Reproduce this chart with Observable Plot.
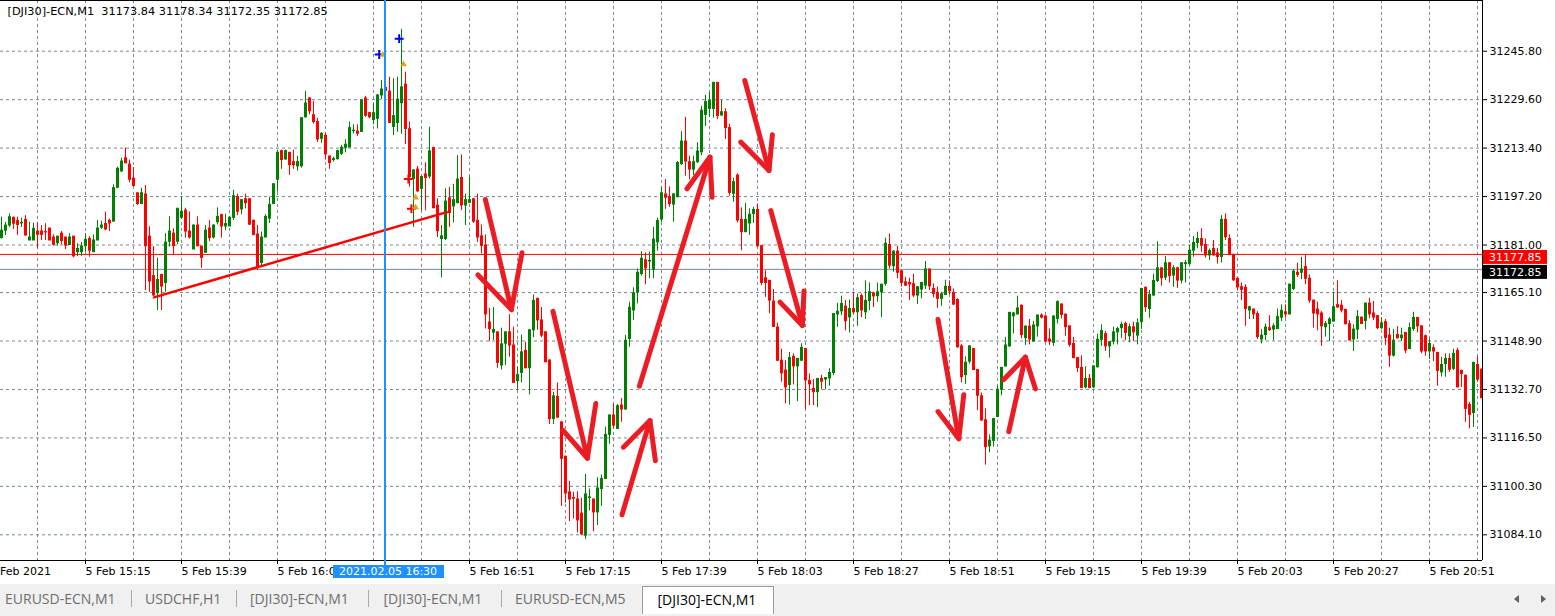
<!DOCTYPE html>
<html><head><meta charset="utf-8">
<script src="https://cdn.jsdelivr.net/npm/d3@7"></script>
<script src="https://cdn.jsdelivr.net/npm/@observablehq/plot@0.6"></script>
<style>
html,body{margin:0;padding:0;background:#fff;width:1555px;height:616px;overflow:hidden;font-family:"DejaVu Sans",sans-serif;}
#chart svg{display:block}
#tabs{position:absolute;left:0;top:584px;width:1555px;height:32px;background:#f0f0f0;font-family:"Open Sans",sans-serif;font-size:14px;}
.tab{position:absolute;top:1px;height:28px;line-height:28px;color:#6e6e6e;white-space:nowrap}
.sep{position:absolute;top:6px;width:1px;height:17px;background:#a9a9a9}
.active{position:absolute;top:2px;height:28px;background:#fff;border:1px solid #9a9a9a;border-bottom:none;box-sizing:border-box}
</style></head><body>
<div id="chart"></div>
<div id="tabs"></div>
<script>
// ---------- data ----------
const symbolTitle = "[DJI30]-ECN,M1\u00a0\u00a031173.84 31178.34 31172.35 31172.85";
const firstMinute = "14:54"; // time of the first M1 candle
const open = [
31183.3,31185.8,31187.5,31190.1,31189.0,31188.2,31189.4,31182.5,31182.5,31185.5,
31185.5,31185.3,31186.5,31183.5,31181.6,31184.8,31183.5,31181.0,31183.8,31178.6,
31178.6,31180.6,31183.0,31178.6,31182.5,31186.8,31188.0,31189.1,31188.8,31200.1,
31205.6,31210.0,31207.9,31203.2,31198.3,31194.7,31197.9,31183.8,31170.6,31164.9,
31171.0,31168.3,31182.1,31184.8,31182.1,31190.1,31192.5,31185.5,31179.5,31187.5,
31180.5,31178.4,31186.5,31183.5,31188.6,31191.0,31187.2,31187.2,31190.1,31197.0,
31192.9,31196.3,31196.3,31189.1,31184.5,31175.0,31183.5,31189.8,31194.7,31202.8,
31212.4,31209.6,31211.8,31208.7,31207.3,31207.3,31223.7,31230.0,31224.4,31222.1,
31216.5,31217.5,31210.6,31209.4,31209.7,31211.5,31213.5,31213.6,31219.1,31218.9,
31218.8,31230.0,31225.1,31222.8,31223.2,31231.0,31233.5,31232.3,31220.5,31221.8,
31228.4,31234.6,31219.7,31203.1,31206.2,31199.8,31204.6,31203.9,31213.4,31194.1,
31183.0,31183.0,31196.6,31193.9,31195.0,31203.4,31194.2,31195.1,31196.3,31189.1,
31183.9,31180.8,31155.1,31151.7,31151.8,31140.7,31148.0,31151.8,31147.4,31135.5,
31138.2,31145.6,31139.8,31152.5,31163.0,31155.8,31151.8,31142.4,31122.8,31130.2,
31121.7,31110.2,31098.3,31096.4,31095.9,31091.2,31083.8,31096.4,31095.9,31091.6,
31099.4,31102.8,31117.5,31124.0,31119.5,31127.3,31126.0,31149.6,31159.1,31165.2,
31171.3,31175.9,31175.5,31172.7,31181.9,31189.5,31197.9,31197.0,31194.5,31197.0,
31208.1,31215.6,31208.7,31206.2,31208.7,31212.0,31224.5,31226.5,31226.5,31235.2,
31224.3,31225.4,31220.1,31198.1,31204.2,31189.4,31185.3,31188.2,31191.4,31192.7,
31180.6,31169.9,31169.0,31162.1,31153.4,31142.3,31139.0,31134.2,31143.6,31140.4,
31142.3,31146.2,31135.5,31132.9,31131.8,31136.2,31136.0,31136.4,31138.2,31157.8,
31158.8,31160.4,31156.8,31159.6,31158.5,31163.9,31158.5,31162.3,31164.8,31163.9,
31165.2,31168.0,31181.0,31173.9,31178.8,31172.2,31168.5,31168.3,31167.9,31164.1,
31166.1,31167.4,31172.8,31166.3,31165.0,31163.0,31164.3,31167.0,31165.0,31162.6,
31147.1,31137.5,31142.0,31146.2,31139.2,31130.4,31122.4,31113.7,31115.5,31123.5,
31132.6,31140.4,31147.1,31157.2,31157.8,31160.7,31149.9,31153.7,31148.7,31153.8,
31157.4,31157.1,31149.4,31148.3,31156.3,31161.1,31157.7,31153.8,31147.9,31143.2,
31139.9,31133.4,31136.2,31133.4,31140.1,31149.3,31151.2,31147.1,31148.7,31151.8,
31153.2,31154.6,31150.5,31153.5,31150.7,31155.2,31166.7,31159.6,31164.1,31169.0,
31173.2,31170.1,31174.9,31170.8,31173.2,31169.1,31174.6,31174.6,31179.1,31181.7,
31183.0,31181.0,31177.5,31179.7,31178.2,31177.0,31189.4,31183.0,31177.7,31169.7,
31166.9,31166.7,31159.1,31159.4,31157.9,31149.4,31150.9,31153.2,31152.7,31152.9,
31156.7,31158.5,31157.8,31166.3,31171.7,31171.7,31173.6,31169.7,31162.4,31159.4,
31158.1,31153.5,31154.6,31155.4,31160.9,31160.7,31159.3,31154.5,31149.4,31152.7,
31156.7,31155.6,31161.4,31158.1,31157.2,31153.2,31155.2,31150.7,31144.0,31150.9,
31149.8,31151.6,31146.2,31152.9,31156.6,31153.8,31150.5,31145.4,31146.5,31144.9,
31138.4,31141.2,31142.9,31139.6,31145.6,31138.9,31137.3,31127.5,31124.8,31140.9,
31139.3];
const high = [
31190.3,31188.6,31191.4,31190.3,31190.3,31190.0,31190.8,31188.6,31188.3,31188.4,
31187.5,31188.1,31186.5,31184.4,31183.8,31185.5,31183.5,31184.8,31183.8,31181.4,
31181.8,31184.8,31183.8,31184.4,31189.2,31189.0,31192.0,31189.7,31201.1,31207.0,
31210.0,31213.4,31209.4,31206.9,31198.3,31200.0,31200.9,31187.1,31180.5,31176.6,
31171.0,31184.8,31190.4,31186.4,31193.3,31197.0,31193.3,31192.1,31187.7,31190.4,
31180.5,31187.5,31189.1,31187.7,31193.4,31191.3,31191.3,31190.4,31199.3,31198.0,
31196.2,31198.0,31196.5,31189.3,31187.5,31185.3,31191.1,31197.0,31201.5,31212.7,
31212.7,31212.7,31212.0,31212.7,31210.7,31223.6,31232.3,31230.3,31229.0,31223.4,
31218.5,31218.5,31210.6,31210.4,31212.7,31214.3,31216.2,31222.1,31221.2,31221.2,
31229.6,31230.7,31225.4,31228.2,31231.3,31236.0,31233.7,31237.1,31236.6,31237.1,
31253.1,31238.8,31222.1,31206.2,31207.3,31204.0,31208.5,31220.4,31213.7,31196.4,
31187.5,31199.8,31200.3,31201.3,31210.9,31211.1,31198.0,31203.6,31196.5,31198.0,
31187.7,31184.4,31159.8,31160.1,31152.0,31153.2,31152.0,31157.7,31153.5,31140.2,
31150.9,31148.5,31152.7,31164.3,31163.2,31160.1,31152.0,31142.6,31131.8,31134.9,
31121.9,31110.4,31102.0,31098.3,31098.5,31096.3,31104.3,31099.4,31096.1,31103.2,
31104.1,31120.1,31124.2,31127.7,31127.7,31129.7,31150.7,31161.9,31166.7,31173.0,
31178.8,31178.4,31178.6,31186.9,31190.0,31200.4,31202.9,31200.4,31198.2,31208.9,
31218.9,31223.7,31210.7,31210.7,31215.2,31227.4,31231.0,31231.9,31235.4,31235.4,
31229.3,31226.5,31221.4,31203.3,31204.8,31193.4,31194.9,31193.1,31193.6,31194.7,
31180.8,31172.4,31169.2,31166.1,31154.9,31146.2,31142.3,31145.1,31144.6,31143.1,
31148.0,31146.4,31137.9,31136.0,31136.4,31137.5,31136.7,31139.6,31158.1,31161.5,
31163.9,31162.4,31162.6,31165.2,31164.6,31164.6,31169.0,31168.3,31165.2,31168.3,
31167.9,31183.3,31184.7,31179.0,31180.6,31172.4,31170.2,31169.9,31171.2,31167.1,
31168.5,31175.5,31173.0,31168.0,31166.9,31165.2,31169.2,31169.0,31166.3,31163.0,
31147.8,31143.6,31147.3,31146.4,31139.4,31131.5,31126.2,31117.5,31123.0,31133.8,
31140.1,31150.1,31158.5,31158.5,31163.9,31160.9,31154.0,31156.1,31155.4,31157.6,
31158.0,31157.3,31152.9,31157.3,31162.4,31161.3,31157.9,31154.0,31150.1,31143.4,
31144.0,31140.3,31137.7,31140.6,31151.2,31154.3,31152.2,31148.7,31153.5,31153.5,
31155.2,31155.2,31154.6,31155.2,31156.3,31166.5,31166.9,31165.8,31171.2,31182.1,
31173.4,31177.2,31175.1,31174.1,31173.6,31175.1,31175.8,31180.8,31183.8,31185.3,
31186.4,31183.0,31179.7,31182.5,31179.9,31190.8,31191.4,31184.4,31177.9,31169.9,
31168.3,31167.7,31160.5,31159.6,31158.7,31152.7,31154.6,31157.4,31154.6,31159.6,
31161.0,31161.0,31168.0,31172.7,31174.9,31176.9,31177.7,31171.0,31162.6,31161.9,
31158.7,31155.4,31156.7,31165.2,31169.0,31162.4,31159.5,31155.8,31154.3,31159.1,
31156.9,31161.6,31163.2,31162.1,31157.4,31156.7,31156.1,31153.2,31152.7,31153.7,
31153.2,31151.8,31154.9,31158.5,31156.8,31154.0,31150.9,31149.6,31147.6,31145.1,
31143.5,31144.6,31144.6,31146.2,31146.5,31139.1,31137.5,31128.4,31141.8,31143.5,
31139.5];
const low = [
31183.0,31184.2,31186.9,31186.2,31184.2,31186.9,31183.9,31182.5,31182.5,31179.7,
31182.5,31182.5,31182.5,31180.6,31180.6,31181.1,31179.5,31181.0,31176.7,31177.2,
31177.2,31178.6,31176.9,31178.6,31182.5,31186.2,31185.8,31185.5,31188.8,31200.1,
31205.3,31208.3,31201.8,31200.4,31194.2,31194.7,31165.8,31165.2,31163.9,31159.1,
31159.1,31165.2,31180.3,31177.5,31181.1,31189.7,31183.3,31183.0,31179.5,31180.3,
31173.2,31178.4,31182.1,31183.0,31187.7,31183.3,31185.8,31187.2,31189.2,31190.8,
31191.1,31193.1,31187.5,31184.2,31172.5,31174.1,31183.5,31188.2,31194.5,31198.7,
31206.3,31209.4,31204.3,31206.3,31205.7,31206.7,31223.4,31224.5,31221.4,31215.3,
31215.0,31209.4,31206.3,31208.7,31209.4,31210.9,31211.8,31213.6,31218.2,31217.3,
31218.8,31223.7,31223.2,31221.2,31219.8,31229.6,31232.3,31221.6,31217.6,31218.7,
31218.0,31214.6,31200.3,31186.9,31198.7,31192.4,31192.4,31203.1,31193.1,31183.5,
31170.0,31182.5,31186.9,31188.4,31194.8,31192.5,31187.5,31194.9,31188.2,31181.9,
31178.0,31152.9,31148.7,31149.1,31139.8,31139.2,31140.7,31143.5,31134.7,31132.5,
31134.9,31139.6,31130.9,31150.0,31152.5,31150.0,31141.6,31121.0,31121.0,31123.0,
31093.6,31094.7,31088.5,31089.4,31084.7,31083.8,31082.5,31092.1,31085.1,31087.2,
31093.6,31102.6,31114.4,31119.5,31119.3,31121.7,31125.8,31146.8,31155.8,31161.3,
31170.6,31167.7,31169.7,31169.7,31179.0,31188.6,31192.9,31193.6,31188.6,31196.8,
31207.6,31204.0,31202.8,31204.2,31208.2,31210.9,31220.6,31223.7,31223.4,31222.9,
31224.1,31216.3,31197.3,31195.3,31188.4,31179.1,31185.1,31184.2,31188.2,31180.1,
31167.4,31163.5,31158.0,31153.4,31142.0,31135.1,31127.9,31127.5,31134.2,31128.6,
31142.1,31126.0,31127.3,31127.3,31126.6,31132.6,31132.6,31133.8,31137.3,31153.5,
31157.4,31152.3,31151.6,31157.8,31153.8,31156.7,31156.1,31159.1,31160.1,31161.9,
31156.7,31167.2,31173.0,31171.9,31169.7,31166.9,31167.2,31162.4,31163.4,31161.1,
31163.0,31166.1,31165.7,31163.3,31159.8,31160.5,31164.1,31164.3,31160.7,31146.5,
31134.9,31134.4,31141.2,31139.0,31125.6,31122.1,31107.4,31111.5,31113.4,31123.3,
31130.6,31140.2,31146.8,31151.3,31157.6,31149.6,31147.4,31147.6,31148.5,31150.2,
31156.3,31148.5,31147.4,31147.1,31154.6,31156.3,31150.5,31146.8,31142.9,31138.4,
31133.0,31132.9,31132.9,31132.9,31139.9,31147.1,31145.4,31143.2,31147.6,31147.6,
31149.8,31149.0,31148.3,31148.7,31147.6,31152.7,31158.5,31156.5,31163.9,31168.5,
31167.2,31169.1,31168.3,31166.9,31166.5,31168.0,31168.3,31174.1,31176.9,31179.7,
31178.6,31176.6,31175.8,31177.3,31174.6,31175.0,31182.5,31177.5,31168.8,31165.8,
31162.4,31153.8,31156.1,31156.1,31149.4,31147.9,31149.0,31152.1,31149.0,31152.7,
31155.4,31156.5,31157.6,31165.8,31170.1,31169.4,31167.7,31161.5,31153.2,31152.3,
31147.1,31150.2,31148.7,31155.2,31159.9,31158.3,31154.3,31148.9,31145.4,31149.4,
31154.4,31152.6,31156.3,31155.7,31152.7,31152.7,31147.4,31140.1,31143.5,31149.6,
31148.7,31144.6,31146.0,31152.1,31151.6,31144.6,31143.8,31142.7,31142.0,31133.8,
31136.9,31136.8,31138.4,31139.0,31133.2,31133.4,31121.7,31119.5,31120.0,31135.1,
31129.6];
const close = [
31185.8,31187.5,31190.3,31188.1,31187.7,31188.4,31184.2,31183.5,31186.4,31184.4,
31184.4,31185.2,31182.5,31181.1,31183.8,31182.3,31180.8,31183.5,31177.2,31179.7,
31180.5,31182.7,31179.1,31182.5,31186.5,31187.5,31186.2,31188.2,31200.0,31206.5,
31208.9,31208.3,31202.8,31200.7,31194.7,31198.3,31180.6,31168.8,31164.1,31169.3,
31167.1,31181.8,31185.5,31180.6,31193.1,31192.1,31185.5,31183.5,31187.5,31180.6,
31176.7,31185.8,31183.3,31187.5,31190.4,31187.2,31188.0,31190.1,31197.3,31192.1,
31196.0,31195.0,31187.8,31184.3,31173.6,31183.5,31190.4,31194.4,31201.3,31211.8,
31209.4,31212.4,31207.7,31207.7,31208.7,31223.4,31228.3,31225.7,31222.1,31216.3,
31218.2,31211.3,31208.4,31209.7,31212.4,31213.5,31214.5,31220.1,31219.2,31218.2,
31229.3,31224.2,31223.7,31225.1,31231.0,31233.0,31232.5,31221.8,31224.1,31229.6,
31233.7,31219.8,31203.7,31205.9,31198.9,31203.7,31203.4,31212.3,31193.3,31185.6,
31183.9,31195.5,31191.7,31196.0,31202.9,31194.2,31196.0,31196.0,31188.8,31183.5,
31180.7,31157.8,31152.9,31152.6,31141.6,31147.8,31151.8,31147.4,31134.9,31137.5,
31145.1,31139.8,31152.5,31162.3,31155.8,31150.7,31141.8,31122.8,31130.4,31123.3,
31109.5,31097.9,31095.9,31096.2,31088.9,31084.3,31097.6,31096.6,31091.6,31099.6,
31102.8,31117.5,31124.0,31120.6,31127.1,31126.0,31149.0,31160.0,31164.9,31171.7,
31176.4,31173.2,31175.7,31182.8,31189.0,31198.3,31196.8,31194.7,31197.9,31208.4,
31215.6,31208.9,31206.2,31208.7,31212.3,31225.9,31228.8,31229.2,31235.2,31224.1,
31225.4,31220.1,31198.4,31202.0,31189.2,31185.3,31189.4,31191.1,31192.7,31180.6,
31168.3,31168.3,31162.4,31153.6,31142.3,31138.1,31133.4,31143.2,31140.4,31142.9,
31146.6,31135.7,31134.4,31131.8,31136.2,31135.3,31136.5,31138.2,31157.9,31158.7,
31161.3,31155.5,31159.6,31158.5,31163.2,31159.1,31162.3,31165.2,31163.8,31165.2,
31167.7,31181.4,31174.1,31178.8,31171.7,31168.3,31167.4,31167.8,31164.1,31166.9,
31168.3,31172.8,31167.2,31164.6,31163.0,31164.5,31167.0,31165.5,31161.1,31146.8,
31136.8,31141.6,31147.1,31139.2,31130.6,31122.3,31113.4,31115.6,31122.8,31132.6,
31139.9,31147.4,31158.3,31158.1,31159.8,31150.9,31153.7,31149.4,31154.1,31157.4,
31156.7,31148.7,31148.7,31157.1,31161.9,31157.6,31153.5,31147.6,31143.2,31139.9,
31133.2,31136.2,31133.2,31140.4,31149.3,31152.2,31147.1,31148.5,31151.8,31152.9,
31154.3,31151.6,31153.5,31151.8,31154.8,31166.3,31160.2,31164.3,31169.0,31173.2,
31169.9,31174.9,31170.6,31173.2,31169.1,31174.9,31174.9,31179.1,31181.7,31183.0,
31180.8,31177.5,31179.0,31177.5,31177.0,31189.4,31183.6,31177.7,31169.2,31166.8,
31166.0,31159.6,31160.2,31157.8,31150.2,31150.7,31153.4,31152.5,31153.8,31156.9,
31159.0,31157.8,31167.7,31172.1,31171.0,31172.8,31169.7,31162.4,31158.1,31157.8,
31153.8,31154.6,31156.1,31160.2,31160.1,31159.1,31154.5,31149.1,31152.7,31156.9,
31154.6,31161.4,31157.8,31156.7,31153.2,31154.8,31149.9,31144.0,31149.0,31149.8,
31150.7,31145.7,31153.2,31156.6,31153.8,31145.4,31145.4,31147.9,31145.4,31138.9,
31140.9,31142.9,31139.3,31144.6,31133.4,31137.9,31126.2,31124.2,31141.6,31136.0,
31129.8];
const yTicks = [31084.10,31100.30,31116.50,31132.70,31148.90,31165.10,31181.00,31197.20,31213.40,31229.60,31245.80];
// 16:27 is hidden behind the cursor label in the reference, so it is not drawn
const xTickLabels = ["15:15","15:39","16:03","16:51","17:15","17:39","18:03","18:27","18:51","19:15","19:39","20:03","20:27","20:51"];
const dateLabel = "5 Feb 2021", dateLabelTime = "14:51";
const askPrice = 31177.85, bidPrice = 31172.85;
const cursorTime = "16:30", cursorLabel = "2021.02.05 16:30";
// trend line (minutes after first candle, price)
const trendLine = [[38, 31163.5], [111.2, 31192.0]];
// hand-drawn arrows: tail, tip, wing start, wing end (minutes after first candle, price)
const arrowTail  = [[120.85,31196.2],[137.75,31158.8],[155.0,31090.8],[159.35,31133.8],[185.7,31236.0],[192.2,31192.5],[234.0,31156.1],[251.7,31118.6]];
const arrowTip   = [[127.35,31159.4],[146.35,31109.7],[162.0,31122.3],[177.0,31210.4],[191.75,31205.9],[200.1,31154.1],[239.2,31116.2],[255.85,31143.5]];
const arrowWingA = [[119.0,31171.0],[140.25,31119.0],[155.35,31113.4],[171.25,31199.8],[184.7,31215.4],[194.5,31161.9],[234.0,31125.3],[250.45,31136.0]];
const arrowWingB = [[130.0,31178.4],[148.45,31128.0],[163.35,31108.9],[177.5,31197.0],[192.6,31217.9],[200.5,31165.6],[240.45,31130.9],[258.35,31132.9]];
// trade markers
const markerTimes  = [94.3, 99.3, 95.2, 100.4, 101.6, 102.35, 103.4, 103.4];
const markerPrices = [31244.7, 31250.0, 31244.6, 31241.4, 31203.1, 31193.1, 31196.9, 31193.6];
const markerKinds  = ["buy","buy","close","close","sell","sell","close","close"];
const tabNames = ["EURUSD-ECN,M1","USDCHF,H1","[DJI30]-ECN,M1","[DJI30]-ECN,M1","EURUSD-ECN,M5","[DJI30]-ECN,M1"];

// ---------- build ----------
const GREEN = "#008000", RED = "#ff0000", GRID = "#778899", BLUE = "#1e90ff", ARROW = "#ec1c24";
const hm = s => { const [h, m] = s.split(":").map(Number); return h * 60 + m; };
const START = hm(firstMinute);
const toMin = s => hm(s) - START;
const fmt = m => { const v = START + m; return String(Math.floor(v / 60)).padStart(2, "0") + ":" + String(v % 60).padStart(2, "0"); };
const n = Math.min(open.length, high.length, low.length, close.length);
const candles = d3.range(n).map(i => ({t: i, o: open[i], h: high[i], l: low[i], c: close[i]}));
const col = d => d.c >= d.o ? GREEN : RED;
const X0 = -0.375, X1 = 370.125, Y0 = 31075.51, Y1 = 31262.75;
const gridT = d3.range(toMin("15:03"), X1, 12);
const labelT = xTickLabels.map(toMin);
const segs = [];
arrowTip.forEach((tip, k) => {
  segs.push({k: "m" + k, t: arrowTail[k][0], p: arrowTail[k][1]}, {k: "m" + k, t: tip[0], p: tip[1]});
  segs.push({k: "w" + k, t: arrowWingA[k][0], p: arrowWingA[k][1]}, {k: "w" + k, t: tip[0], p: tip[1]}, {k: "w" + k, t: arrowWingB[k][0], p: arrowWingB[k][1]});
});
const markers = markerTimes.map((t, i) => ({t, p: markerPrices[i], kind: markerKinds[i]}));

const chart = Plot.plot({
  width: 1555, height: 584,
  marginLeft: 0, marginRight: 73, marginTop: 0, marginBottom: 24,
  style: {fontFamily: "'DejaVu Sans', sans-serif", fontSize: "11px", color: "#000", background: "#fff"},
  x: {type: "linear", domain: [X0, X1]},
  y: {type: "linear", domain: [Y0, Y1]},
  marks: [
    Plot.ruleY(yTicks, {stroke: GRID, strokeDasharray: "3,3"}),
    Plot.ruleX(gridT, {stroke: GRID, strokeDasharray: "3,3", dx: -0.5}),
    Plot.ruleY([askPrice], {stroke: RED}),
    Plot.ruleY([bidPrice], {stroke: GRID}),
    Plot.ruleX(candles, {x: "t", y1: "l", y2: "h", stroke: col, dx: -0.5, clip: true}),
    Plot.rect(candles, {x1: d => d.t - 0.375, x2: d => d.t + 0.375, y1: d => Math.min(d.o, d.c), y2: d => Math.max(d.o, d.c), fill: col, insetTop: -0.5, insetBottom: -0.5, clip: true}),
    Plot.line(trendLine, {x: d => d[0], y: d => d[1], stroke: RED, strokeWidth: 2.5}),
    Plot.line(segs, {x: "t", y: "p", z: "k", stroke: ARROW, strokeWidth: 5, strokeLinecap: "round", strokeLinejoin: "round"}),
    Plot.dot(markers.filter(d => d.kind !== "close"), {x: "t", y: "p", symbol: "plus", r: 3, stroke: d => d.kind === "buy" ? "#0000ff" : RED, strokeWidth: 2}),
    Plot.dot(markers.filter(d => d.kind === "close"), {x: "t", y: "p", symbol: "triangle", r: 2.5, fill: "#daa520", stroke: "none"}),
    Plot.ruleX([X1], {stroke: "#000"}),
    Plot.ruleY([Y0], {stroke: "#000"}),
    Plot.ruleY([Y1], {stroke: "#000"}),
    Plot.axisX({ticks: labelT, tickFormat: t => "5 Feb " + fmt(t), anchor: "bottom", tickSize: 4, tickPadding: 3, textAnchor: "start", label: null, dx: -0.5, fill: "#000", stroke: "#000"}),
    Plot.axisY({ticks: yTicks, tickFormat: d => d.toFixed(2), anchor: "right", tickSize: 4, tickPadding: 3, label: null, fill: "#000", stroke: "#000"}),
    Plot.text([symbolTitle], {frameAnchor: "top-left", dx: 7, dy: 6, textAnchor: "start", lineAnchor: "top", fill: "#000", fontSize: 11.3})
  ]
});
document.getElementById("chart").appendChild(chart);

// overlays positioned through the chart's own scales
const svg = d3.select(chart);
const sx = chart.scale("x"), sy = chart.scale("y");
svg.append("text").attr("x", sx.apply(toMin(dateLabelTime))).attr("y", 567).attr("dy", "0.71em").attr("text-anchor", "start").attr("fill", "#000").text(dateLabel);
const xb = sx.apply(toMin(cursorTime)) - 0.5;
svg.append("line").attr("x1", xb).attr("x2", xb).attr("y1", 0).attr("y2", 566).attr("stroke", BLUE).attr("stroke-width", 2);
svg.append("rect").attr("x", xb - 52).attr("y", 565).attr("width", 111).attr("height", 13).attr("fill", BLUE);
svg.append("text").attr("x", xb + 3).attr("y", 571.5).attr("dy", "0.35em").attr("text-anchor", "middle").attr("fill", "#fff").text(cursorLabel);
[[askPrice, RED], [bidPrice, "#000"]].forEach(([p, c]) => {
  const yy = sy.apply(p);
  svg.append("rect").attr("x", 1483).attr("y", yy - 4).attr("width", 64).attr("height", 14).attr("fill", c);
  svg.append("text").attr("x", 1489).attr("y", yy + 3).attr("dy", "0.35em").attr("text-anchor", "start").attr("fill", "#fff").text(p.toFixed(2));
});

// tab bar
const tabs = document.getElementById("tabs");
const tabX = [5, 145, 250, 383.5, 515, 657.5];
const sepX = [131, 236, 368, 501];
const act = document.createElement("div");
act.className = "active"; act.style.left = "642px"; act.style.width = "132px";
tabs.appendChild(act);
tabNames.forEach((name, i) => {
  const s = document.createElement("div");
  s.className = "tab"; s.style.left = tabX[i] + "px"; s.textContent = name;
  if (i === tabNames.length - 1) { s.style.color = "#000"; s.style.top = "2px"; }
  tabs.appendChild(s);
});
sepX.forEach(x => { const d = document.createElement("div"); d.className = "sep"; d.style.left = x + "px"; tabs.appendChild(d); });
tabs.insertAdjacentHTML("beforeend",
  '<svg style="position:absolute;left:1510px;top:9px" width="40" height="12"><path d="M9,2 L4,6 L9,10Z" fill="#606060"/><path d="M31,2 L36,6 L31,10Z" fill="#606060"/></svg>');
</script>
</body></html>
